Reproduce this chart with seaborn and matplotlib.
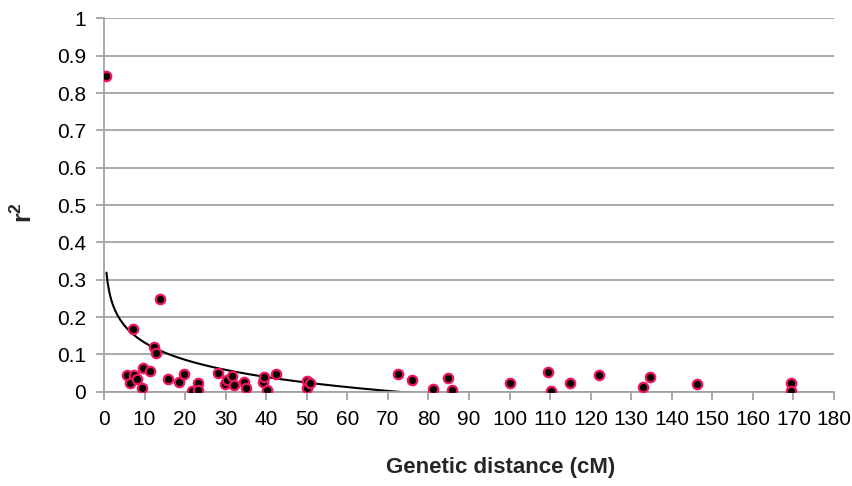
import numpy as np
import matplotlib
matplotlib.use("Agg")
import matplotlib.pyplot as plt
import pandas as pd
import seaborn as sns

# Marker pairs
distance = [0.6, 5.7, 6.5, 7.2, 7.5, 8.1, 9.4, 9.7, 11.4, 12.4,
            12.7, 13.7, 15.9, 18.4, 19.7, 21.7, 23.1, 23.1, 28.0, 29.8,
            30.3, 31.5, 32.0, 34.6, 34.9, 39.2, 39.4, 40.3, 42.5, 50.0,
            50.0, 50.7, 72.4, 76.0, 81.2, 84.7, 85.9, 100.0, 109.4, 110.1,
            114.8, 122.1, 132.8, 134.6, 146.3, 169.4, 169.4]
r2 = [0.846, 0.046, 0.024, 0.168, 0.045, 0.033, 0.010, 0.063, 0.056, 0.119,
      0.104, 0.247, 0.035, 0.027, 0.048, 0.001, 0.023, 0.004, 0.051, 0.020,
      0.032, 0.043, 0.017, 0.027, 0.009, 0.026, 0.039, 0.004, 0.048, 0.028,
      0.010, 0.022, 0.048, 0.031, 0.006, 0.038, 0.004, 0.023, 0.053, 0.003,
      0.024, 0.046, 0.012, 0.040, 0.020, 0.022, 0.002]

# Logarithmic trendline (y = a + b*ln x)
trend_a = 0.285
trend_b = -0.0666

x_ticks = list(range(0, 181, 10))
y_ticks = [0, 0.1, 0.2, 0.3, 0.4, 0.5, 0.6, 0.7, 0.8, 0.9, 1]
y_tick_labels = ["0", "0.1", "0.2", "0.3", "0.4", "0.5", "0.6", "0.7", "0.8", "0.9", "1"]

df = pd.DataFrame({"distance": distance, "r2": r2})

sns.set_style("white")
plt.rcParams["font.family"] = ["Liberation Sans", "DejaVu Sans"]
plt.rcParams["mathtext.fontset"] = "custom"
plt.rcParams["mathtext.bf"] = "Liberation Sans:bold"
plt.rcParams["mathtext.rm"] = "Liberation Sans"

grey = "#a3a3a3"

fig = plt.figure(figsize=(8.52, 4.86), dpi=100)
ax = fig.add_axes([104 / 852, 1 - 391.7 / 486, 730 / 852, 373.3 / 486])

ax.set_axisbelow(True)
ax.yaxis.grid(True, color=grey, linewidth=1.3)
ax.xaxis.grid(False)

# trendline
tx = np.linspace(min(distance), 180, 600)
ax.plot(tx, trend_a + trend_b * np.log(tx), color="black", linewidth=1.5, zorder=2)

sns.scatterplot(data=df, x="distance", y="r2", ax=ax, color="black",
                edgecolor="#ee1460", linewidth=1.6, s=46, zorder=3)

ax.set_xlim(0, 180)
ax.set_ylim(0, 1)
ax.set_xticks(x_ticks)
ax.set_yticks(y_ticks)
ax.set_yticklabels(y_tick_labels)

for side in ["top", "right"]:
    ax.spines[side].set_visible(False)
for side in ["left", "bottom"]:
    ax.spines[side].set_color(grey)
    ax.spines[side].set_linewidth(1.3)

ax.tick_params(axis="both", direction="out", length=6, width=1.3, color=grey,
               labelsize=15, labelcolor="black", pad=7)
ax.tick_params(axis="x", bottom=True)
ax.tick_params(axis="y", left=True)

ax.set_xlabel("Genetic distance (cM)", fontsize=16, fontweight="bold")
ax.xaxis.set_label_coords(0.544, -0.175)
ax.set_ylabel(r"$\mathbf{r^2}$", fontsize=18)
ax.yaxis.set_label_coords(-0.092, 0.48)

fig.savefig("out.png", dpi=100)
